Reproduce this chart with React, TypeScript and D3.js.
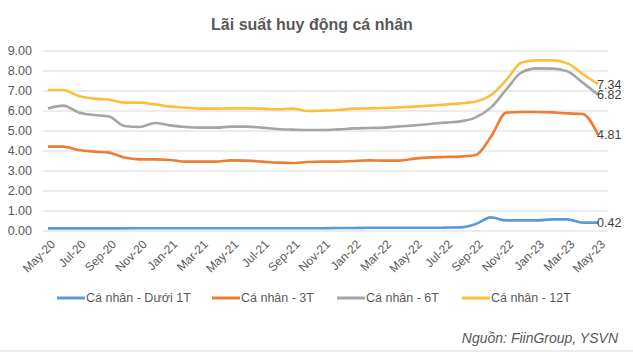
import React, { useEffect, useRef } from 'react';
import { select, scalePoint, scaleLinear, line, curveMonotoneX } from 'd3';

const months = [
  'May-20', 'Jun-20', 'Jul-20', 'Aug-20', 'Sep-20', 'Oct-20', 'Nov-20', 'Dec-20',
  'Jan-21', 'Feb-21', 'Mar-21', 'Apr-21', 'May-21', 'Jun-21', 'Jul-21', 'Aug-21',
  'Sep-21', 'Oct-21', 'Nov-21', 'Dec-21', 'Jan-22', 'Feb-22', 'Mar-22', 'Apr-22',
  'May-22', 'Jun-22', 'Jul-22', 'Aug-22', 'Sep-22', 'Oct-22', 'Nov-22', 'Dec-22',
  'Jan-23', 'Feb-23', 'Mar-23', 'Apr-23', 'May-23',
];

const under1T = [
  0.13, 0.13, 0.13, 0.13, 0.13, 0.13, 0.14, 0.14, 0.14, 0.14, 0.14, 0.14, 0.14,
  0.14, 0.14, 0.14, 0.14, 0.14, 0.14, 0.15, 0.15, 0.16, 0.16, 0.16, 0.16, 0.16,
  0.17, 0.18, 0.35, 0.68, 0.53, 0.53, 0.53, 0.58, 0.58, 0.42, 0.42,
];
const m3T = [
  4.22, 4.22, 4.05, 3.97, 3.92, 3.67, 3.58, 3.58, 3.55, 3.47, 3.47, 3.47, 3.53,
  3.52, 3.47, 3.42, 3.40, 3.45, 3.47, 3.47, 3.50, 3.53, 3.52, 3.52, 3.62, 3.68,
  3.70, 3.72, 3.80, 4.72, 5.92, 5.95, 5.95, 5.93, 5.88, 5.85, 4.81,
];
const m6T = [
  6.13, 6.27, 5.93, 5.80, 5.72, 5.25, 5.20, 5.40, 5.28, 5.20, 5.17, 5.17, 5.22,
  5.22, 5.17, 5.10, 5.07, 5.05, 5.05, 5.08, 5.13, 5.15, 5.17, 5.23, 5.28, 5.35,
  5.42, 5.48, 5.68, 6.18, 7.08, 7.93, 8.13, 8.12, 7.98, 7.42, 6.82,
];
const m12T = [
  7.05, 7.05, 6.75, 6.62, 6.57, 6.42, 6.42, 6.33, 6.22, 6.17, 6.12, 6.12, 6.13,
  6.13, 6.12, 6.08, 6.12, 6.00, 6.02, 6.05, 6.12, 6.13, 6.15, 6.18, 6.22, 6.27,
  6.32, 6.38, 6.47, 6.80, 7.55, 8.42, 8.53, 8.53, 8.38, 7.85, 7.34,
];

const seriesNames = ['Cá nhân - Dưới 1T', 'Cá nhân - 3T', 'Cá nhân - 6T', 'Cá nhân - 12T'];
const colors = ['#5B9BD5', '#ED7D31', '#A5A5A5', '#FAC03A'];
const yTicks = [0, 1, 2, 3, 4, 5, 6, 7, 8, 9];

const W = 633;
const H = 354;
const font = '"Liberation Sans", Arial, sans-serif';
const textColor = '#595959';

const App = () => {
  const svgRef = useRef<SVGSVGElement>(null);

  useEffect(() => {
    const svg = select(svgRef.current);
    svg.selectAll('*').remove();

    const allSeries = [under1T, m3T, m6T, m12T];

    const x = scalePoint<string>().domain(months).range([48, 598]);
    const y = scaleLinear().domain([0, 9]).range([231, 51]);
    const gridLeft = 43;
    const gridRight = 608;

    svg.append('rect').attr('width', W).attr('height', H).attr('fill', '#fff');

    svg.append('text')
      .attr('x', 312).attr('y', 30)
      .attr('text-anchor', 'middle')
      .attr('font-family', font).attr('font-weight', 'bold').attr('font-size', 16)
      .attr('fill', textColor)
      .text('Lãi suất huy động cá nhân');

    // grid
    svg.append('g').selectAll('line')
      .data(yTicks)
      .join('line')
      .attr('x1', gridLeft).attr('x2', gridRight)
      .attr('y1', (d) => y(d)).attr('y2', (d) => y(d))
      .attr('stroke', '#d9d9d9').attr('stroke-width', 1);

    svg.append('g').selectAll('text')
      .data(yTicks)
      .join('text')
      .attr('x', 32).attr('y', (d) => y(d))
      .attr('dy', '0.35em')
      .attr('text-anchor', 'end')
      .attr('font-family', font).attr('font-size', 12.5)
      .attr('fill', textColor)
      .text((d) => d.toFixed(2));

    // x labels
    svg.append('g').selectAll('text')
      .data(months.filter((_, i) => i % 2 === 0))
      .join('text')
      .attr('transform', (d) => `translate(${(x(d) as number) + 5},${y(0) + 11}) rotate(-45)`)
      .attr('text-anchor', 'end')
      .attr('dy', '0.35em')
      .attr('font-family', font).attr('font-size', 12)
      .attr('fill', textColor)
      .text((d) => d);

    const lineGen = line<number>()
      .x((_, i) => x(months[i]) as number)
      .y((d) => y(d))
      .curve(curveMonotoneX);

    svg.append('g').selectAll('path')
      .data(allSeries)
      .join('path')
      .attr('d', (d) => lineGen(d))
      .attr('fill', 'none')
      .attr('stroke', (_, i) => colors[i])
      .attr('stroke-width', 2.6)
      .attr('stroke-linejoin', 'round');

    // end labels
    const last = months[months.length - 1];
    svg.append('g').selectAll('text')
      .data(allSeries)
      .join('text')
      .attr('x', (x(last) as number) - 1)
      .attr('y', (d) => y(d[d.length - 1]))
      .attr('dy', '0.35em')
      .attr('font-family', font).attr('font-size', 12.5)
      .attr('fill', '#404040')
      .text((d) => d[d.length - 1].toFixed(2));

    // legend
    const legendX = [57, 212, 337, 462];
    const lg = svg.append('g').selectAll('g')
      .data(seriesNames)
      .join('g')
      .attr('transform', (_, i) => `translate(${legendX[i]},298)`);
    lg.append('line')
      .attr('x1', 0).attr('x2', 28)
      .attr('stroke', (_, i) => colors[i]).attr('stroke-width', 3);
    lg.append('text')
      .attr('x', 29).attr('dy', '0.35em')
      .attr('font-family', font).attr('font-size', 12.5)
      .attr('fill', textColor)
      .text((d) => d);

    svg.append('text')
      .attr('x', 618).attr('y', 343)
      .attr('text-anchor', 'end')
      .attr('font-family', font).attr('font-style', 'italic').attr('font-size', 14)
      .attr('fill', textColor)
      .text('Nguồn: FiinGroup, YSVN');

    svg.append('line')
      .attr('x1', 0).attr('x2', W)
      .attr('y1', 351).attr('y2', 351)
      .attr('stroke', '#d9d9d9').attr('stroke-width', 1);
  }, []);

  return (
    <div style={{ position: 'fixed', left: 0, top: 0 }}>
      <svg ref={svgRef} width={W} height={H} style={{ display: 'block' }} />
    </div>
  );
};

export default App;
